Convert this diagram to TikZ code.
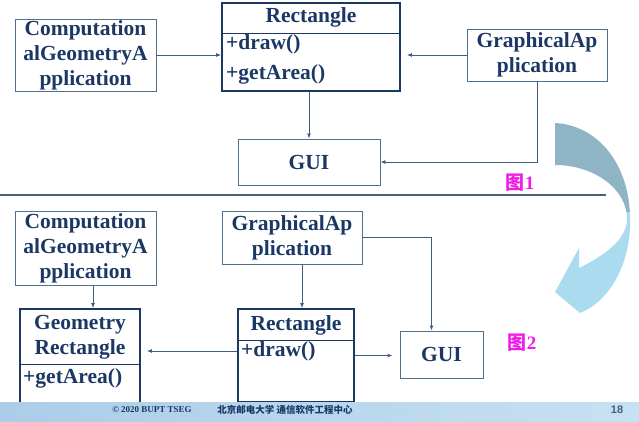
\documentclass[tikz,border=0pt]{standalone}
\usepackage{fontspec}
\setmainfont{Liberation Serif}
\setsansfont{Liberation Sans}
\newfontfamily\cjk{Noto Sans CJK SC}
\usetikzlibrary{arrows.meta}
\definecolor{classnavy}{HTML}{1B3763}
\definecolor{boxedge}{HTML}{50708F}
\definecolor{linkblue}{HTML}{3D5C80}
\definecolor{rulegrey}{HTML}{4B6078}
\definecolor{figmagenta}{HTML}{EE1EE6}
\definecolor{bendtop}{HTML}{8FB4C5}
\definecolor{bendlow}{HTML}{ABDBEF}
\definecolor{footleft}{HTML}{ABCDE9}
\definecolor{footright}{HTML}{C6E1F2}
\newcommand{\boxfont}{\bfseries\fontsize{21.5}{25}\selectfont}
\newcommand{\bendpath}{(555,123) .. controls (595,125) and (628,160) .. (630,215)
    .. controls (632,260) and (612,300) .. (580,313) -- (555,292) -- (579,248) -- (579,268)
    .. controls (605,255) and (626,240) .. (627,220)
    .. controls (628,190) and (595,165) .. (555,165) -- cycle}

\begin{document}
\begin{tikzpicture}[x=1pt, y=-1pt,
    plainbox/.style={draw=boxedge, line width=0.9pt, text=classnavy, font=\boxfont, align=center, inner sep=0pt},
    classbox/.style={draw=classnavy, line width=1.8pt, inner sep=0pt},
    boxtext/.style={text=classnavy, font=\boxfont, align=center, inner sep=0pt},
    divider/.style={draw=classnavy, line width=1pt},
    link/.style={draw=linkblue, line width=0.9pt, -{Latex[length=5pt,width=4pt]}},
    figlabel/.style={text=figmagenta, font=\bfseries\fontsize{19}{21}\selectfont, inner sep=0pt}]
    \useasboundingbox (0,0) rectangle (639,421);

    % Figure 1
    \node[plainbox, minimum width=141pt, minimum height=72pt] (cga1) at (85.5,55) {Computation\\alGeometryA\\pplication};
    \node[classbox, minimum width=178pt, minimum height=88pt] (rect1) at (311,47) {};
    \node[boxtext] (rect1name) at (311,17) {Rectangle};
    \node[boxtext, anchor=west] (rect1draw) at (226,44) {+draw()};
    \node[boxtext, anchor=west] (rect1area) at (226,74) {+getArea()};
    \draw[divider] (rect1.west |- 0,33) -- (rect1.east |- 0,33);
    \node[plainbox, minimum width=140pt, minimum height=52pt] (gap1) at (537,55) {GraphicalAp\\plication};
    \node[plainbox, minimum width=142pt, minimum height=46pt] (gui1) at (309,162) {GUI};

    \draw[link] (cga1.east) -- (cga1.east -| rect1.west);
    \draw[link, shorten >=6pt] (gap1.west) -- (gap1.west -| rect1.east);
    \draw[link] (rect1.south -| gui1.north) -- (gui1.north);
    \draw[link] (gap1.south) |- (gui1.east);
    \node[figlabel] (fig1) at (520,183) {{\cjk 图}1};

    % Separator
    \draw[rulegrey, line width=2.5pt] (0,195) -- (606,195);

    % Bent arrow
    \begin{scope}
        \clip (500,100) rectangle (639,212);
        \fill[bendtop] \bendpath;
    \end{scope}
    \begin{scope}
        \clip (500,212) rectangle (639,330);
        \fill[bendlow] \bendpath;
    \end{scope}

    % Figure 2
    \node[plainbox, minimum width=141pt, minimum height=74pt] (cga2) at (85.5,248) {Computation\\alGeometryA\\pplication};
    \node[plainbox, minimum width=140pt, minimum height=53pt] (gap2) at (292,237.5) {GraphicalAp\\plication};
    \node[classbox, minimum width=120pt, minimum height=94pt] (geo2) at (80,356) {};
    \node[boxtext] (geo2name) at (80,337.5) {Geometry\\Rectangle};
    \node[boxtext, anchor=west] (geo2area) at (23,378) {+getArea()};
    \draw[divider] (geo2.west |- 0,364) -- (geo2.east |- 0,364);
    \node[classbox, minimum width=116pt, minimum height=93pt] (rect2) at (296,355.5) {};
    \node[boxtext] (rect2name) at (296,325) {Rectangle};
    \node[boxtext, anchor=west] (rect2draw) at (241,351) {+draw()};
    \draw[divider] (rect2.west |- 0,340) -- (rect2.east |- 0,340);
    \node[plainbox, minimum width=83pt, minimum height=47pt] (gui2) at (441.5,354.5) {GUI};

    \draw[link] ([xshift=7.5pt]cga2.south) -- ([xshift=7.5pt]cga2.south |- geo2.north);
    \draw[link] ([xshift=10pt]gap2.south) -- ([xshift=10pt]gap2.south |- rect2.north);
    \draw[link] (gap2.east) -| ([xshift=-10pt]gui2.north);
    \draw[link, shorten >=6pt] ([yshift=4.5pt]rect2.west) -- ([yshift=4.5pt]rect2.west -| geo2.east);
    \draw[link, shorten >=7pt] (rect2.east) -- (rect2.east -| gui2.west);
    \node[figlabel] (fig2) at (522,343) {{\cjk 图}2};

    % Footer
    \shade[left color=footleft, right color=footright] (0,402) rectangle (639,421);
    \node[text=classnavy, font=\bfseries\fontsize{9}{10}\selectfont] (copy) at (152,410) {© 2020 BUPT TSEG};
    \node[text=classnavy, font=\cjk\bfseries\fontsize{9.5}{11}\selectfont] (school) at (285,410) {北京邮电大学 通信软件工程中心};
    \node[text=rulegrey, font=\sffamily\bfseries\fontsize{11}{12}\selectfont] (page) at (617,410) {18};
\end{tikzpicture}
\end{document}
